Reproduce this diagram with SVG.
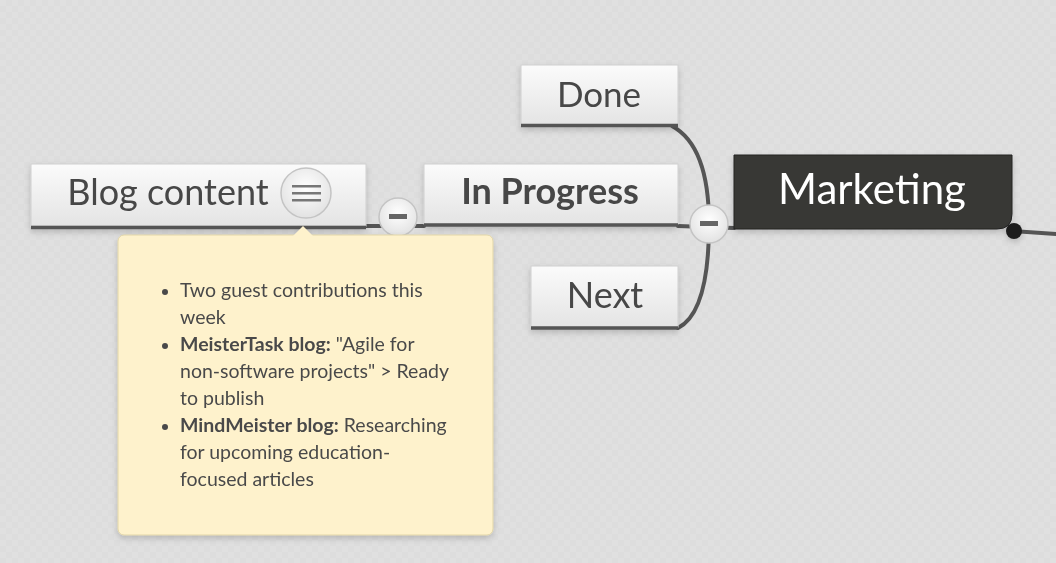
<svg xmlns="http://www.w3.org/2000/svg" width="1056" height="563" viewBox="0 0 1056 563">
<defs>
<linearGradient id="nodeGrad" x1="0" y1="0" x2="0" y2="1">
<stop offset="0" stop-color="#fbfbfb"/>
<stop offset="1" stop-color="#e4e4e4"/>
</linearGradient>
<radialGradient id="btnGrad" cx="0.5" cy="0.4" r="0.6">
<stop offset="0" stop-color="#ffffff"/>
<stop offset="1" stop-color="#e2e2e2"/>
</radialGradient>
<pattern id="bg" width="12" height="12" patternUnits="userSpaceOnUse">
<rect width="12" height="12" fill="#dddddd"/>
<rect width="6" height="6" fill="#e0e0e0"/>
<rect x="6" y="6" width="6" height="6" fill="#e0e0e0"/>
</pattern>
<filter id="shadow" x="-10%" y="-20%" width="120%" height="150%">
<feDropShadow dx="0" dy="3" stdDeviation="3" flood-color="#000" flood-opacity="0.18"/>
</filter>
</defs>
<style>
.node{fill:url(#nodeGrad);stroke:#d0d0d0;stroke-width:1}
.base{stroke:#555;stroke-width:3.5;fill:none}
.lbl{font-family:Lato,"Open Sans",sans-serif;fill:#474747;text-anchor:middle}
.conn{stroke:#555;stroke-width:4;fill:none;stroke-linecap:round}
.btn{fill:url(#btnGrad);stroke:#c4c4c4;stroke-width:1.5}
.minus{fill:#666}
.note{font-family:Lato,"Open Sans",sans-serif;font-size:19.5px;fill:#4a4a4a}
.b{font-weight:bold}
</style>
<rect width="1056" height="563" fill="url(#bg)"/>

<g id="connectors">
<path class="conn" d="M 672 126 C 698 140 709 175 709 224"/>
<path class="conn" d="M 709 224 C 709 285 698 318 678 328"/>
<path class="conn" d="M 366 226 L 424 226"/>
<path class="conn" d="M 678 226 L 734 228"/>
<path class="conn" d="M 1014 231 L 1056 234" stroke-width="3.5"/>
</g>

<g id="node-done" filter="url(#shadow)">
<rect class="node" x="521" y="65" width="157" height="60"/>
<line class="base" x1="521" y1="125.5" x2="678" y2="125.5"/>
<text class="lbl" x="599" y="107" font-size="35">Done</text>
</g>

<g id="node-inprogress" filter="url(#shadow)">
<rect class="node" x="424" y="164" width="254" height="60"/>
<line class="base" x1="424" y1="225" x2="678" y2="225"/>
<text class="lbl" x="550" y="204" font-size="36" font-weight="bold">In Progress</text>
</g>

<g id="node-next" filter="url(#shadow)">
<rect class="node" x="531" y="266" width="147" height="61"/>
<line class="base" x1="531" y1="328" x2="678" y2="328"/>
<text class="lbl" x="605" y="308" font-size="36">Next</text>
</g>

<g id="node-blog" filter="url(#shadow)">
<rect class="node" x="31" y="164" width="335" height="62"/>
<line class="base" x1="31" y1="227.5" x2="366" y2="227.5"/>
<text class="lbl" x="168" y="205" font-size="36">Blog content</text>
<circle class="btn" cx="306" cy="193" r="25"/>
<rect x="292" y="185" width="29" height="2.5" fill="#777"/>
<rect x="292" y="192" width="29" height="2.5" fill="#777"/>
<rect x="292" y="199" width="29" height="2.5" fill="#777"/>
</g>

<g id="node-marketing" filter="url(#shadow)">
<path d="M 734 155 L 1012 155 L 1012 214 Q 1012 229 997 229 L 734 229 Z" fill="#383835" stroke="#222" stroke-width="1"/>
<text x="872" y="204" font-family="Lato,'Open Sans',sans-serif" font-size="42" fill="#ffffff" text-anchor="middle">Marketing</text>
<circle cx="1014" cy="231" r="8" fill="#1c1c1c"/>
</g>

<g id="toggle-blog">
<circle class="btn" cx="398" cy="217" r="19"/>
<rect class="minus" x="389" y="214" width="18" height="5"/>
</g>

<g id="toggle-marketing">
<circle class="btn" cx="709" cy="224" r="19"/>
<rect class="minus" x="700" y="221" width="18" height="5"/>
</g>

<g id="note" filter="url(#shadow)">
<rect x="118" y="235" width="375" height="300" rx="6" fill="#fef2cc" stroke="#e2d6a8" stroke-width="1"/>
<path d="M 293 236 L 303 226 L 313 236 Z" fill="#fef2cc"/>
<circle cx="165" cy="292" r="3" fill="#4a4a4a"/>
<circle cx="165" cy="346" r="3" fill="#4a4a4a"/>
<circle cx="165" cy="427" r="3" fill="#4a4a4a"/>
<text class="note" x="180" y="297">Two guest contributions this</text>
<text class="note" x="180" y="324">week</text>
<text class="note" x="180" y="351"><tspan class="b">MeisterTask blog:</tspan> "Agile for</text>
<text class="note" x="180" y="378">non-software projects" &gt; Ready</text>
<text class="note" x="180" y="405">to publish</text>
<text class="note" x="180" y="432"><tspan class="b">MindMeister blog:</tspan> Researching</text>
<text class="note" x="180" y="459">for upcoming education-</text>
<text class="note" x="180" y="486">focused articles</text>
</g>
</svg>
